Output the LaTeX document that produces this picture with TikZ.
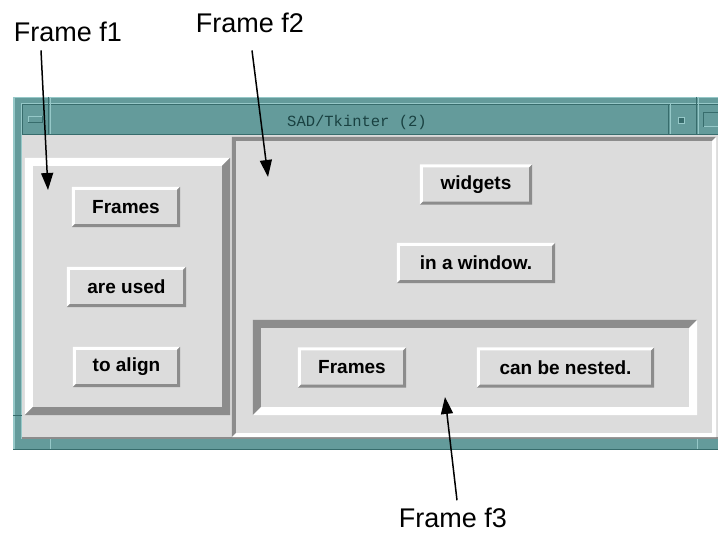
\documentclass[tikz,border=0pt]{standalone}
\usepackage{fontspec}
\setmainfont{Liberation Sans}
\newfontfamily\monofont{Liberation Mono}
\usetikzlibrary{arrows.meta}

\definecolor{wmteal}{RGB}{100,155,155}
\definecolor{wmlight}{RGB}{150,200,200}
\definecolor{wmdark}{RGB}{55,108,108}
\definecolor{tkgray}{RGB}{220,220,220}
\definecolor{tkshadow}{RGB}{140,140,140}
\definecolor{tktitle}{RGB}{25,65,65}

% light edge on top/left, dark edge on bottom/right
\newcommand{\bevel}[4]{%
  \fill[#3] (#1.south west) -- (#1.north west) -- (#1.north east)
    -- ([shift={(-#2pt,-#2pt)}]#1.north east) -- ([shift={(#2pt,-#2pt)}]#1.north west)
    -- ([shift={(#2pt,#2pt)}]#1.south west) -- cycle;
  \fill[#4] (#1.south west) -- (#1.south east) -- (#1.north east)
    -- ([shift={(-#2pt,-#2pt)}]#1.north east) -- ([shift={(-#2pt,#2pt)}]#1.south east)
    -- ([shift={(#2pt,#2pt)}]#1.south west) -- cycle;}

\begin{document}
\begin{tikzpicture}[x=1pt,y=-1pt]
\tikzstyle{line} = [draw, line width=1.5pt, -{Triangle[length=17pt,width=12pt]}]
\tikzstyle{label} = [inner sep=0pt, anchor=base, font=\fontsize{27}{32}\selectfont]
\tikzstyle{panel} = [fill=tkgray, inner sep=0pt]
\tikzstyle{button} = [fill=tkgray, inner sep=0pt, minimum height=40pt,
  font=\fontsize{19}{22}\selectfont\bfseries]

\useasboundingbox (0,0) rectangle (718,534);

% window decoration
\fill[wmteal] (13,97) rectangle (718,450);
\draw[wmlight, line width=1.5pt] (13.75,450) -- (13.75,97.75) -- (718,97.75);
\draw[wmdark] (22,439) -- (22,104) -- (718,104);
\draw[wmlight] (21,439) -- (21,103) -- (718,103);
\draw[wmdark] (22,134.5) -- (718,134.5);
\draw[wmdark] (48.5,97) -- (48.5,134);
\draw[wmlight] (50,97) -- (50,134);
\draw[wmdark] (668.5,104) -- (668.5,134);
\draw[wmlight] (670,104) -- (670,134);
\draw[wmdark] (696.5,97) -- (696.5,134);
\draw[wmlight] (698,97) -- (698,134);
\draw[wmdark] (13,415) -- (22,415);
\draw[wmlight] (50,439) -- (50,450);
\draw[wmlight] (697,439) -- (697,450);
\draw[wmdark] (13,449.5) -- (718,449.5);
\filldraw[fill=wmteal, draw=wmdark] (28,116) rectangle (42,122);
\draw[wmlight] (28,122) -- (28,116) -- (42,116);
\filldraw[fill=wmdark, draw=wmlight] (678,117) rectangle (684,123);
\draw[wmdark] (703,127) -- (703,112) -- (718,112);
\draw[wmlight] (704,126) -- (718,126);
\node[font=\monofont\fontsize{15.5}{18}\selectfont, text=tktitle] (title) at (357,122) {SAD/Tkinter (2)};

% client area
\fill[tkgray] (22,135) rectangle (718,439);
\draw[tkshadow, line width=2pt] (22,438) -- (718,438);

% frames
\node[panel, minimum width=205pt, minimum height=257pt] (f1) at (127.5,286.5) {};
\node[panel, minimum width=484pt, minimum height=300pt] (f2) at (474,287) {};
\bevel{f1}{8}{white}{tkshadow}
\bevel{f2}{4}{tkshadow}{white}
\node[panel, minimum width=444pt, minimum height=95pt] (f3) at (475,367.5) {};
\bevel{f3}{8}{tkshadow}{white}

% buttons
\node[button, minimum width=108pt] (b1) at (126,207) {Frames};
\node[button, minimum width=119pt] (b2) at (126.5,287) {are used};
\node[button, minimum width=107pt] (b3) at (126.5,367) {to align};
\node[button, minimum width=112pt] (b4) at (476,184.5) {widgets};
\node[button, minimum width=158pt] (b5) at (476,263) {in a window.};
\node[button, minimum width=108pt] (b6) at (352,367.5) {Frames};
\node[button, minimum width=177pt] (b7) at (565.5,367.5) {can be nested.};
\foreach \b in {b1,b2,b3,b4,b5,b6,b7}
  \bevel{\b}{3}{white}{tkshadow};

% labels
\node[label] (lf1) at (68,42) {Frame f1};
\node[label] (lf2) at (250,33) {Frame f2};
\node[label] (lf3) at (453,528) {Frame f3};

\coordinate (tip1) at (48,190);
\coordinate (tip2) at (268,177);
\coordinate (tip3) at (445,397);

\path[line] ([shift={(-27pt,-8pt)}]lf1.south) -- (tip1);
\path[line] ([shift={(2pt,-17pt)}]lf2.south) -- (tip2);
\path[line] ([shift={(4pt,8pt)}]lf3.north) -- (tip3);

\end{tikzpicture}
\end{document}
